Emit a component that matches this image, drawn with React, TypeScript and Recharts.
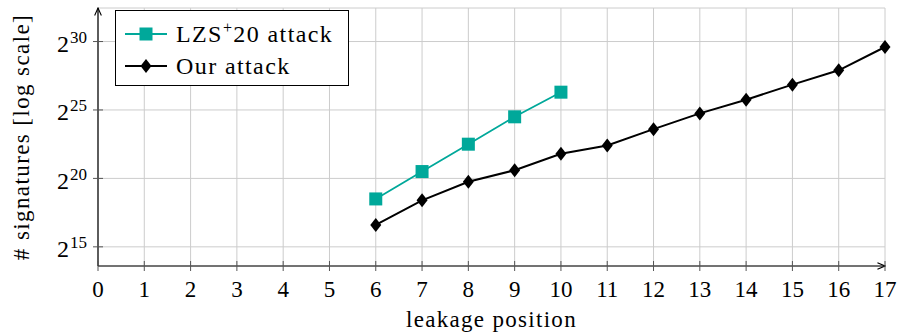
import { CartesianGrid, Line, LineChart, XAxis, YAxis } from "recharts";

// leakage positions on the x axis
const xTicks = [0, 1, 2, 3, 4, 5, 6, 7, 8, 9, 10, 11, 12, 13, 14, 15, 16, 17];
// y values are log2(# signatures)
const yTicks = [15, 20, 25, 30];

const lzsPositions = [6, 7, 8, 9, 10];
const lzsLog2 = [18.5, 20.5, 22.5, 24.5, 26.3];

const ourPositions = [6, 7, 8, 9, 10, 11, 12, 13, 14, 15, 16, 17];
const ourLog2 = [16.6, 18.4, 19.75, 20.6, 21.8, 22.4, 23.6, 24.75, 25.75, 26.85, 27.9, 29.6];

const TEAL = "#00a89a";
const FONT = "'Liberation Serif', 'DejaVu Serif', serif";

const data = ourPositions.map((pos, i) => {
  const j = lzsPositions.indexOf(pos);
  return { pos, ours: ourLog2[i], lzs: j >= 0 ? lzsLog2[j] : null };
});

const SquareDot = (props: any) => {
  const { cx, cy } = props;
  if (cx == null || cy == null || props.value == null) return null;
  return <rect x={cx - 6.5} y={cy - 6.5} width={13} height={13} fill={TEAL} />;
};

const DiamondDot = (props: any) => {
  const { cx, cy } = props;
  if (cx == null || cy == null) return null;
  return <polygon points={`${cx},${cy - 7} ${cx + 5.5},${cy} ${cx},${cy + 7} ${cx - 5.5},${cy}`} fill="#000" />;
};

const XTick = (props: any) => {
  const { x, y, payload } = props;
  return (
    <g>
      <line x1={x} x2={x} y1={y - 5} y2={y + 5} stroke="#555" strokeWidth={1} />
      <text x={x} y={y + 31} textAnchor="middle" fontFamily={FONT} fontSize={23} fill="#000">
        {payload.value}
      </text>
    </g>
  );
};

const YTick = (props: any) => {
  const { x, y, payload } = props;
  return (
    <g>
      <line x1={x + 11 - 5} x2={x + 11 + 5} y1={y} y2={y} stroke="#555" strokeWidth={1} />
      <text x={x} y={y + 10.5} textAnchor="end" fontFamily={FONT} fontSize={24} fill="#000">
        2
        <tspan fontSize={17} dy={-9} dx={1}>
          {payload.value}
        </tspan>
      </text>
    </g>
  );
};

const XLabel = (props: any) => {
  const { viewBox } = props;
  const cx = viewBox.x + viewBox.width / 2;
  return (
    <text x={cx} y={viewBox.y + viewBox.height - 6} textAnchor="middle" fontFamily={FONT} fontSize={23} letterSpacing={1.3} fill="#000">
      leakage position
    </text>
  );
};

const YLabel = (props: any) => {
  const { viewBox } = props;
  const cy = viewBox.y + viewBox.height / 2;
  const x = 29;
  return (
    <text
      x={x}
      y={cy}
      transform={`rotate(-90, ${x}, ${cy})`}
      textAnchor="middle"
      fontFamily={FONT}
      fontSize={23}
      letterSpacing={1.4}
      fill="#000"
    >
      # signatures [log scale]
    </text>
  );
};

function LegendBox() {
  const row = (label: React.ReactNode, marker: React.ReactNode, color: string) => (
    <div style={{ display: "flex", alignItems: "center", height: 32 }}>
      <svg width={44} height={16} style={{ marginRight: 8 }}>
        <line x1={1} x2={43} y1={8} y2={8} stroke={color} strokeWidth={2} />
        {marker}
      </svg>
      <span>{label}</span>
    </div>
  );
  return (
    <div
      style={{
        position: "absolute",
        left: 115,
        top: 10,
        width: 234,
        height: 76,
        border: "1px solid #000",
        background: "#fff",
        padding: "7px 0 0 8px",
        boxSizing: "border-box",
        fontFamily: FONT,
        fontSize: 24,
        letterSpacing: 1.4,
        lineHeight: "24px",
      }}
    >
      {row(
        <>
          LZS<sup style={{ fontSize: 16, verticalAlign: "0.55em", lineHeight: 0 }}>+</sup>20 attack
        </>,
        <rect x={15.5} y={1.5} width={13} height={13} fill={TEAL} />,
        TEAL
      )}
      {row("Our attack", <polygon points="22,1 27.5,8 22,15 16.5,8" fill="#000" />, "#000")}
    </div>
  );
}

export default function App() {
  return (
    <div style={{ position: "absolute", left: 0, top: 0, width: 901, height: 333, background: "#fff" }}>
      <svg width={0} height={0} style={{ position: "absolute" }}>
        <defs>
          <marker id="arrow" viewBox="0 0 10 10" refX={9} refY={5} markerWidth={7} markerHeight={7} orient="auto-start-reverse">
            <path d="M0,1 L9,5 L0,9" fill="none" stroke="#000" strokeWidth={1.3} />
          </marker>
        </defs>
      </svg>
      <LineChart width={901} height={333} data={data} margin={{ top: 8, right: 16, bottom: 0, left: 0 }}>
        <CartesianGrid stroke="#cccccc" strokeWidth={1} />
        <XAxis
          type="number"
          dataKey="pos"
          domain={[0, 17]}
          ticks={xTicks}
          interval={0}
          height={67}
          tickSize={0}
          tickMargin={0}
          tickLine={false}
          axisLine={{ stroke: "#000", strokeWidth: 1.2, markerEnd: "url(#arrow)" }}
          tick={<XTick />}
          label={<XLabel />}
        />
        <YAxis
          type="number"
          domain={[13.6, 32.45]}
          ticks={yTicks}
          allowDataOverflow
          width={98}
          tickSize={0}
          tickMargin={11}
          tickLine={false}
          axisLine={{ stroke: "#000", strokeWidth: 1.2, markerStart: "url(#arrow)" }}
          tick={<YTick />}
          label={<YLabel />}
        />
        <Line
          dataKey="lzs"
          stroke={TEAL}
          strokeWidth={1.8}
          dot={<SquareDot />}
          connectNulls={false}
          isAnimationActive={false}
        />
        <Line dataKey="ours" stroke="#000" strokeWidth={2} dot={<DiamondDot />} isAnimationActive={false} />
      </LineChart>
      <LegendBox />
    </div>
  );
}
